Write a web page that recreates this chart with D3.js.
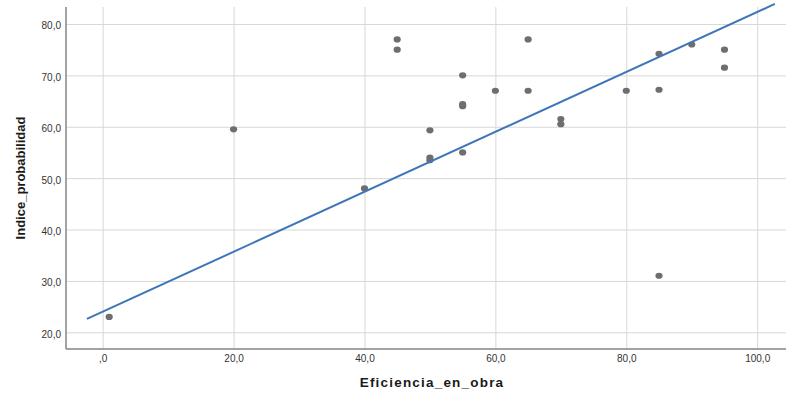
<!DOCTYPE html>
<html>
<head>
<meta charset="utf-8">
<script src="https://cdn.jsdelivr.net/npm/d3@7"></script>
<style>
  html, body { margin: 0; padding: 0; background: #fff; }
  svg { display: block; font-family: "Liberation Sans", Arial, sans-serif; }
</style>
</head>
<body>
<div id="chart"></div>
<script>
// Eficiencia_en_obra (x) e Indice_probabilidad (y) de cada caso
const eficiencia = [1, 20, 40, 45, 45, 50, 50, 50, 55, 55, 55, 55, 60, 65, 65, 70, 70, 80, 85, 85, 85, 90, 95, 95]
const indice = [23, 59.5, 48, 77, 75, 59.3, 53.5, 54, 70, 64, 64.4, 55, 67, 77, 67, 61.5, 60.5, 67, 74.2, 67.2, 31, 76, 75, 71.5]

// Recta de ajuste (extremos)
const fitX = [-2.4, 102.7]
const fitY = [22.6, 83.9]

// Marcas de los ejes
const xTicks = [0, 20, 40, 60, 80, 100]
const yTicks = [20, 30, 40, 50, 60, 70, 80]

const xTitle = "Eficiencia_en_obra"
const yTitle = "Indice_probabilidad"

function drawScatter() {
  const widthRect = 786
  const heightRect = 396
  const margin = { top: 7, right: 0, bottom: 47, left: 66 }

  const svg = d3
    .select("#chart")
    .append("svg")
    .attr("width", widthRect)
    .attr("height", heightRect)

  const x = d3
    .scaleLinear()
    .domain([-5.6, 104.4])
    .range([margin.left, widthRect - margin.right])
  const y = d3
    .scaleLinear()
    .domain([16.75, 83.3])
    .range([heightRect - margin.bottom, margin.top])

  // Formato estilo SPSS: coma decimal, sin cero a la izquierda
  const fmt = (d) => {
    const s = d3.format(".1f")(d).replace(".", ",")
    return s.startsWith("0,") ? s.slice(1) : s
  }

  const plotW = widthRect - margin.left - margin.right
  const plotH = heightRect - margin.top - margin.bottom

  // Eje X con líneas de cuadrícula
  const gx = svg
    .append("g")
    .attr("transform", "translate(0," + (heightRect - margin.bottom) + ")")
    .call(d3.axisBottom(x).tickValues(xTicks).tickSize(-plotH).tickPadding(6).tickFormat(fmt))
  gx.select(".domain").remove()
  gx.selectAll(".tick line").attr("stroke", "#d7d7d7")
  gx.selectAll(".tick text").attr("fill", "#333").attr("font-size", 10)

  // Eje Y con líneas de cuadrícula
  const gy = svg
    .append("g")
    .attr("transform", "translate(" + margin.left + ",0)")
    .call(d3.axisLeft(y).tickValues(yTicks).tickSize(-plotW).tickPadding(5).tickFormat(fmt))
  gy.select(".domain").remove()
  gy.selectAll(".tick line").attr("stroke", "#d7d7d7")
  gy.selectAll(".tick text").attr("fill", "#333").attr("font-size", 10).attr("dy", "0.5em")

  // Líneas de los ejes
  svg
    .append("line")
    .attr("x1", margin.left)
    .attr("x2", margin.left)
    .attr("y1", margin.top)
    .attr("y2", heightRect - margin.bottom)
    .attr("stroke", "#858585")
    .attr("stroke-width", 1.5)
  svg
    .append("line")
    .attr("x1", margin.left)
    .attr("x2", widthRect - margin.right)
    .attr("y1", heightRect - margin.bottom)
    .attr("y2", heightRect - margin.bottom)
    .attr("stroke", "#858585")
    .attr("stroke-width", 1.5)

  // Puntos
  svg
    .append("g")
    .selectAll("ellipse")
    .data(eficiencia.map((d, i) => [d, indice[i]]))
    .enter()
    .append("ellipse")
    .attr("cx", (d) => x(d[0]))
    .attr("cy", (d) => y(d[1]))
    .attr("rx", 3.6)
    .attr("ry", 3.1)
    .attr("fill", "#6e6e6e")

  // Recta de ajuste
  svg
    .append("path")
    .datum(fitX.map((d, i) => [d, fitY[i]]))
    .attr("fill", "none")
    .attr("stroke", "#3f76ba")
    .attr("stroke-width", 2)
    .attr("d", d3.line().x((d) => x(d[0])).y((d) => y(d[1])))

  // Títulos de los ejes
  svg
    .append("text")
    .attr("x", 432)
    .attr("y", 387)
    .attr("text-anchor", "middle")
    .attr("font-size", 13.5)
    .attr("letter-spacing", 1.2)
    .attr("font-weight", "bold")
    .attr("fill", "#1a1a1a")
    .text(xTitle)
  svg
    .append("text")
    .attr("transform", "translate(25," + (margin.top + plotH / 2) + ") rotate(-90)")
    .attr("text-anchor", "middle")
    .attr("font-size", 13)
    .attr("font-weight", "bold")
    .attr("fill", "#1a1a1a")
    .text(yTitle)
}

drawScatter()
</script>
</body>
</html>
